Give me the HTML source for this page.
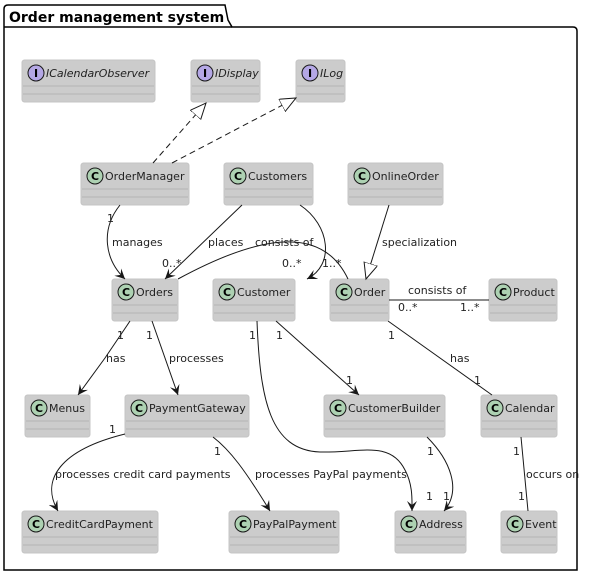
<!DOCTYPE html>
<html><head><style>body{margin:0;background:#fff}svg{display:block}text{font-family:"DejaVu Sans","Liberation Sans",sans-serif}</style></head><body>
<svg width="589" height="575" xmlns="http://www.w3.org/2000/svg">
<defs>
<marker id="a" markerWidth="12" markerHeight="12" refX="10" refY="5" orient="auto" markerUnits="userSpaceOnUse"><path d="M0,0 L10,5 L0,10 L4,5 Z" fill="#181818"/></marker>
<marker id="t" markerWidth="18" markerHeight="16" refX="16" refY="7" orient="auto" markerUnits="userSpaceOnUse"><path d="M0,0 L16,7 L0,14 Z" fill="#fff" stroke="#181818"/></marker>
<g id="bx"><rect x="0" y="0" width="10" height="42" rx="2.5"/></g>
</defs>
<path d="M4,27 L4,570 L577,570 L577,31 Q577,27 573,27 L232,27 L228,20 L225,5 L8,5 Q4,5 4,9 Z" fill="none" stroke="#000" stroke-width="1.5"/>
<line x1="4" y1="27" x2="232" y2="27" stroke="#000" stroke-width="1.5"/>
<text x="9" y="22" font-size="14" font-weight="bold">Order management system</text>

<g fill="#cccccc" stroke="#c4c4c4">
<rect x="22" y="60" width="133" height="42" rx="2.5"/>
<rect x="191" y="60" width="69" height="42" rx="2.5"/>
<rect x="296" y="60" width="49" height="42" rx="2.5"/>
<rect x="81" y="163" width="108" height="42" rx="2.5"/>
<rect x="224" y="163" width="89" height="42" rx="2.5"/>
<rect x="348" y="163" width="95" height="42" rx="2.5"/>
<rect x="112" y="279" width="66" height="42" rx="2.5"/>
<rect x="213" y="279" width="82" height="42" rx="2.5"/>
<rect x="330" y="279" width="59" height="42" rx="2.5"/>
<rect x="489" y="279" width="68" height="42" rx="2.5"/>
<rect x="25" y="395" width="65" height="42" rx="2.5"/>
<rect x="125" y="395" width="124" height="42" rx="2.5"/>
<rect x="324" y="395" width="121" height="42" rx="2.5"/>
<rect x="481" y="395" width="76" height="42" rx="2.5"/>
<rect x="22" y="511" width="136" height="42" rx="2.5"/>
<rect x="229" y="511" width="110" height="42" rx="2.5"/>
<rect x="395" y="511" width="71" height="42" rx="2.5"/>
<rect x="501" y="511" width="56" height="42" rx="2.5"/>
</g>
<g stroke="#b4b4b4">
<path d="M23,86H154M23,94H154M192,86H259M192,94H259M297,86H344M297,94H344"/>
<path d="M82,189H188M82,197H188M225,189H312M225,197H312M349,189H442M349,197H442"/>
<path d="M113,305H177M113,313H177M214,305H294M214,313H294M331,305H388M331,313H388M490,305H556M490,313H556"/>
<path d="M26,421H89M26,429H89M126,421H248M126,429H248M325,421H444M325,429H444M482,421H556M482,429H556"/>
<path d="M23,537H157M23,545H157M230,537H338M230,545H338M396,537H465M396,545H465M502,537H556M502,545H556"/>
</g>
<g stroke="#181818">
<g fill="#b4a7e5"><circle cx="36" cy="73" r="8"/><circle cx="205" cy="73" r="8"/><circle cx="310" cy="73" r="8"/></g>
<g fill="#add1b2">
<circle cx="95" cy="176" r="8"/><circle cx="238" cy="176" r="8"/><circle cx="362" cy="176" r="8"/>
<circle cx="126" cy="292" r="8"/><circle cx="227" cy="292" r="8"/><circle cx="344" cy="292" r="8"/><circle cx="503" cy="292" r="8"/>
<circle cx="39" cy="408" r="8"/><circle cx="139" cy="408" r="8"/><circle cx="338" cy="408" r="8"/><circle cx="495" cy="408" r="8"/>
<circle cx="36" cy="524" r="8"/><circle cx="243" cy="524" r="8"/><circle cx="409" cy="524" r="8"/><circle cx="515" cy="524" r="8"/>
</g></g>
<g font-size="11" font-weight="bold" text-anchor="middle" fill="#000">
<text x="36" y="77">I</text><text x="205" y="77">I</text><text x="310" y="77">I</text>
<text x="95" y="180">C</text><text x="238" y="180">C</text><text x="362" y="180">C</text>
<text x="126" y="296">C</text><text x="227" y="296">C</text><text x="344" y="296">C</text><text x="503" y="296">C</text>
<text x="39" y="412">C</text><text x="139" y="412">C</text><text x="338" y="412">C</text><text x="495" y="412">C</text>
<text x="36" y="528">C</text><text x="243" y="528">C</text><text x="409" y="528">C</text><text x="515" y="528">C</text>
</g>
<g font-size="11" fill="#222">
<g font-style="italic"><text x="46" y="77">ICalendarObserver</text><text x="215" y="77">IDisplay</text><text x="320" y="77">ILog</text></g>
<text x="105" y="180">OrderManager</text><text x="248" y="180">Customers</text><text x="372" y="180">OnlineOrder</text>
<text x="136" y="296">Orders</text><text x="237" y="296">Customer</text><text x="354" y="296">Order</text><text x="513" y="296">Product</text>
<text x="49" y="412">Menus</text><text x="149" y="412">PaymentGateway</text><text x="348" y="412">CustomerBuilder</text><text x="505" y="412">Calendar</text>
<text x="46" y="528">CreditCardPayment</text><text x="253" y="528">PayPalPayment</text><text x="419" y="528">Address</text><text x="525" y="528">Event</text>
</g>

<g stroke="#181818" fill="none" stroke-width="1">
<path d="M153,163 L206,103" stroke-dasharray="6,4" marker-end="url(#t)"/>
<path d="M172,163 L296,98" stroke-dasharray="6,4" marker-end="url(#t)"/>
<path d="M120,205 C100,230 105,260 125,279" marker-end="url(#a)"/>
<path d="M242,205 L165,279" marker-end="url(#a)"/>
<path d="M300,205 C330,225 335,265 307,279" marker-end="url(#a)"/>
<path d="M348,279 C320,220 250,240 178,279"/>
<path d="M389,205 L366,279" marker-end="url(#t)"/>
<path d="M389,300 L489,300"/>
<path d="M130,321 L105,358 L78,395" marker-end="url(#a)"/>
<path d="M152,321 L178,395" marker-end="url(#a)"/>
<path d="M257,321 C260,400 270,450 320,452 C360,453 390,440 405,470 C413,485 412,500 412,511" marker-end="url(#a)"/>
<path d="M276,321 L359,395" marker-end="url(#a)"/>
<path d="M388,321 L492,395"/>
<path d="M125,434 C60,450 40,480 58,511" marker-end="url(#a)"/>
<path d="M213,437 C230,450 245,470 270,511" marker-end="url(#a)"/>
<path d="M427,437 C450,460 462,490 444,511" marker-end="url(#a)"/>
<path d="M521,437 L528,511"/>
</g>
<g font-size="11" fill="#222">
<text x="107" y="222">1</text><text x="112" y="246">manages</text>
<text x="208" y="246">places</text><text x="162" y="267">0..*</text>
<text x="255" y="246">consists of</text><text x="282" y="267">0..*</text><text x="322" y="267">1..*</text>
<text x="382" y="246">specialization</text>
<text x="408" y="294">consists of</text><text x="398" y="311">0..*</text><text x="460" y="311">1..*</text>
<text x="117" y="339">1</text><text x="106" y="362">has</text><text x="146" y="339">1</text><text x="169" y="362">processes</text>
<text x="249" y="339">1</text><text x="276" y="339">1</text><text x="346" y="384">1</text>
<text x="388" y="339">1</text><text x="450" y="362">has</text><text x="474" y="384">1</text>
<text x="109" y="433">1</text><text x="55" y="478">processes credit card payments</text>
<text x="214" y="455">1</text><text x="255" y="478">processes PayPal payments</text>
<text x="427" y="455">1</text><text x="426" y="500">1</text><text x="443" y="500">1</text>
<text x="513" y="455">1</text><text x="526" y="478">occurs on</text><text x="518" y="500">1</text>
</g>
</svg>
</body></html>
